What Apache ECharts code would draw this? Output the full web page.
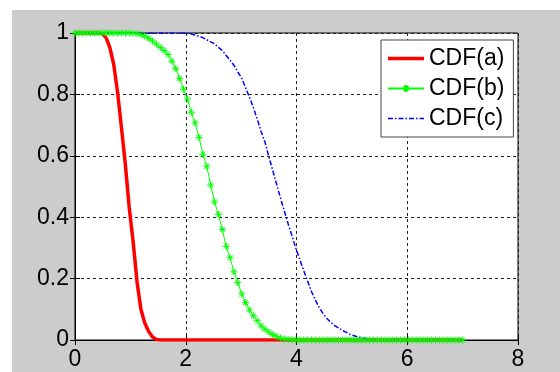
<!DOCTYPE html>
<html>
<head>
<meta charset="utf-8">
<script src="https://cdn.jsdelivr.net/npm/echarts@6/dist/echarts.min.js"></script>
<style>
  html, body { margin: 0; padding: 0; background: #fff; }
  #wrap { position: relative; width: 560px; height: 372px; background: #fff; }
  #bg { position: absolute; left: 12px; top: 10px; width: 548px; height: 362px; background: #cccccc; }
  #chart { position: absolute; left: 0; top: 0; width: 560px; height: 372px; }
</style>
</head>
<body>
<div id="wrap">
  <div id="bg"></div>
  <div id="chart"></div>
</div>
<script>
// x samples shared by the three curves
const xs = [
  0, 0.07, 0.14, 0.21, 0.28, 0.35, 0.42, 0.49, 0.56, 0.63,
  0.7, 0.77, 0.84, 0.91, 0.98, 1.05, 1.12, 1.19, 1.26, 1.33,
  1.4, 1.47, 1.54, 1.61, 1.68, 1.75, 1.82, 1.89, 1.96, 2.03,
  2.1, 2.17, 2.24, 2.31, 2.38, 2.45, 2.52, 2.59, 2.66, 2.73,
  2.8, 2.87, 2.94, 3.01, 3.08, 3.15, 3.22, 3.29, 3.36, 3.43,
  3.5, 3.57, 3.64, 3.71, 3.78, 3.85, 3.92, 3.99, 4.06, 4.13,
  4.2, 4.27, 4.34, 4.41, 4.48, 4.55, 4.62, 4.69, 4.76, 4.83,
  4.9, 4.97, 5.04, 5.11, 5.18, 5.25, 5.32, 5.39, 5.46, 5.53,
  5.6, 5.67, 5.74, 5.81, 5.88, 5.95, 6.02, 6.09, 6.16, 6.23,
  6.3, 6.37, 6.44, 6.51, 6.58, 6.65, 6.72, 6.79, 6.86, 6.93,
  7
];

const cdfA = [
  1, 1, 1, 1, 1, 1, 1, 0.998, 0.985, 0.952,
  0.897, 0.805, 0.69, 0.57, 0.43, 0.32, 0.19, 0.1, 0.055, 0.028,
  0.01, 0.002, 0, 0, 0, 0, 0, 0, 0, 0,
  0, 0, 0, 0, 0, 0, 0, 0, 0, 0,
  0, 0, 0, 0, 0, 0, 0, 0, 0, 0,
  0, 0, 0, 0, 0, 0, 0, 0, 0, 0,
  0, 0, 0, 0, 0, 0, 0, 0, 0, 0,
  0, 0, 0, 0, 0, 0, 0, 0, 0, 0,
  0, 0, 0, 0, 0, 0, 0, 0, 0, 0,
  0, 0, 0, 0, 0, 0, 0, 0, 0, 0,
  0
];

const cdfB = [
  1, 1, 1, 1, 1, 1, 1, 1, 1, 1,
  1, 1, 1, 1, 1, 0.999, 0.998, 0.995, 0.99, 0.983,
  0.974, 0.964, 0.953, 0.943, 0.93, 0.908, 0.884, 0.852, 0.817, 0.785,
  0.742, 0.707, 0.66, 0.605, 0.566, 0.505, 0.45, 0.409, 0.36, 0.305,
  0.268, 0.222, 0.187, 0.15, 0.122, 0.098, 0.079, 0.063, 0.046, 0.035,
  0.026, 0.018, 0.011, 0.006, 0.003, 0.002, 0.001, 0, 0, 0,
  0, 0, 0, 0, 0, 0, 0, 0, 0, 0,
  0, 0, 0, 0, 0, 0, 0, 0, 0, 0,
  0, 0, 0, 0, 0, 0, 0, 0, 0, 0,
  0, 0, 0, 0, 0, 0, 0, 0, 0, 0,
  0
];

const cdfC = [
  1, 1, 1, 1, 1, 1, 1, 1, 1, 1,
  1, 1, 1, 1, 1, 1, 1, 1, 1, 1,
  1, 1, 1, 1, 1, 1, 1, 1, 1, 0.999,
  0.997, 0.993, 0.989, 0.985, 0.978, 0.971, 0.965, 0.953, 0.943, 0.927,
  0.911, 0.895, 0.873, 0.853, 0.822, 0.791, 0.758, 0.72, 0.68, 0.645,
  0.598, 0.553, 0.508, 0.463, 0.42, 0.378, 0.338, 0.298, 0.262, 0.226,
  0.192, 0.158, 0.13, 0.106, 0.086, 0.07, 0.057, 0.047, 0.039, 0.031,
  0.025, 0.018, 0.014, 0.01, 0.007, 0.005, 0.003, 0.002, 0.001, 0,
  0, 0, 0, 0, 0, 0, 0, 0, 0, 0,
  0, 0, 0, 0, 0, 0, 0, 0, 0, 0,
  0
];

const seriesNames = ["CDF(a)", "CDF(b)", "CDF(c)"];

function pairs(ys) {
  return xs.map(function (x, i) { return [x, ys[i]]; });
}

const font = "Liberation Sans, Arial, sans-serif";
const asterisk = "path://M5,0L5,10M0,5L10,5M1.5,1.5L8.5,8.5M8.5,1.5L1.5,8.5";

// legend icons, drawn in a 36x8 box (the two lone moves fix the box)
const iconA = "path://M0,0M36,8M0,2.2H36V5.8H0Z";
const iconB = "path://M0,0M36,8M0,4H36M18,0.6V7.4M14.6,4H21.4M15.6,1.6L20.4,6.4M20.4,1.6L15.6,6.4";
const iconC = "path://M0,0M36,8M0,3.2H5V4.8H0ZM7,3.2H8.5V4.8H7ZM10.5,3.2H15.5V4.8H10.5ZM17.5,3.2H19V4.8H17.5Z" +
  "M21,3.2H26V4.8H21ZM28,3.2H29.5V4.8H28ZM31.5,3.2H36V4.8H31.5Z";

const tickStyle = { show: true, inside: true, length: 5, lineStyle: { color: "#000", width: 1 } };
const gridLine = { show: true, lineStyle: { color: "#222", width: 1, type: [3, 3] } };
const labelStyle = { color: "#000", fontSize: 23, fontFamily: font };

const chart = echarts.init(document.getElementById("chart"));
chart.setOption({
  animation: false,
  grid: {
    left: 75, right: 42, top: 33, bottom: 32,
    show: true, backgroundColor: "#fff", borderColor: "#000", borderWidth: 1,
  },
  xAxis: [
    {
      type: "value", position: "bottom", min: 0, max: 8, interval: 2,
      axisLine: { show: true, lineStyle: { color: "#000" } },
      axisTick: tickStyle,
      axisLabel: Object.assign({ margin: 8 }, labelStyle),
      splitLine: gridLine,
    },
    {
      type: "value", position: "top", min: 0, max: 8, interval: 2,
      axisLine: { show: true, lineStyle: { color: "#000" } },
      axisTick: tickStyle,
      axisLabel: { show: false },
      splitLine: { show: false },
    },
  ],
  yAxis: [
    {
      type: "value", position: "left", min: 0, max: 1, interval: 0.2,
      axisLine: { show: true, lineStyle: { color: "#000" } },
      axisTick: tickStyle,
      axisLabel: Object.assign({ margin: 6 }, labelStyle),
      splitLine: gridLine,
    },
    {
      type: "value", position: "right", min: 0, max: 1, interval: 0.2,
      axisLine: { show: true, lineStyle: { color: "#000" } },
      axisTick: tickStyle,
      axisLabel: { show: false },
      splitLine: { show: false },
    },
  ],
  legend: {
    orient: "vertical", left: 381, top: 40,
    itemWidth: 36, itemHeight: 8, itemGap: 7,
    padding: [7, 9, 7, 6],
    backgroundColor: "#fff", borderColor: "#444", borderWidth: 1,
    textStyle: { color: "#000", fontSize: 23, lineHeight: 23, fontFamily: font },
    data: [
      { name: seriesNames[0], icon: iconA },
      { name: seriesNames[1], icon: iconB },
      { name: seriesNames[2], icon: iconC },
    ],
  },
  series: [
    {
      name: seriesNames[0], type: "line", data: pairs(cdfA),
      symbol: "none",
      lineStyle: { color: "#ff0000", width: 3.5 },
      itemStyle: { color: "#ff0000" },
    },
    {
      name: seriesNames[1], type: "line", data: pairs(cdfB),
      symbol: asterisk, symbolSize: 7, showAllSymbol: true,
      lineStyle: { color: "#00ff00", width: 1 },
      itemStyle: { color: "#00ff00", borderColor: "#00ff00", borderWidth: 1 },
    },
    {
      name: seriesNames[2], type: "line", data: pairs(cdfC),
      symbol: "none",
      lineStyle: { color: "#0000ff", width: 1.5, type: [5, 2, 1.5, 2] },
      itemStyle: { color: "#0000ff" },
    },
  ],
});
</script>
</body>
</html>
